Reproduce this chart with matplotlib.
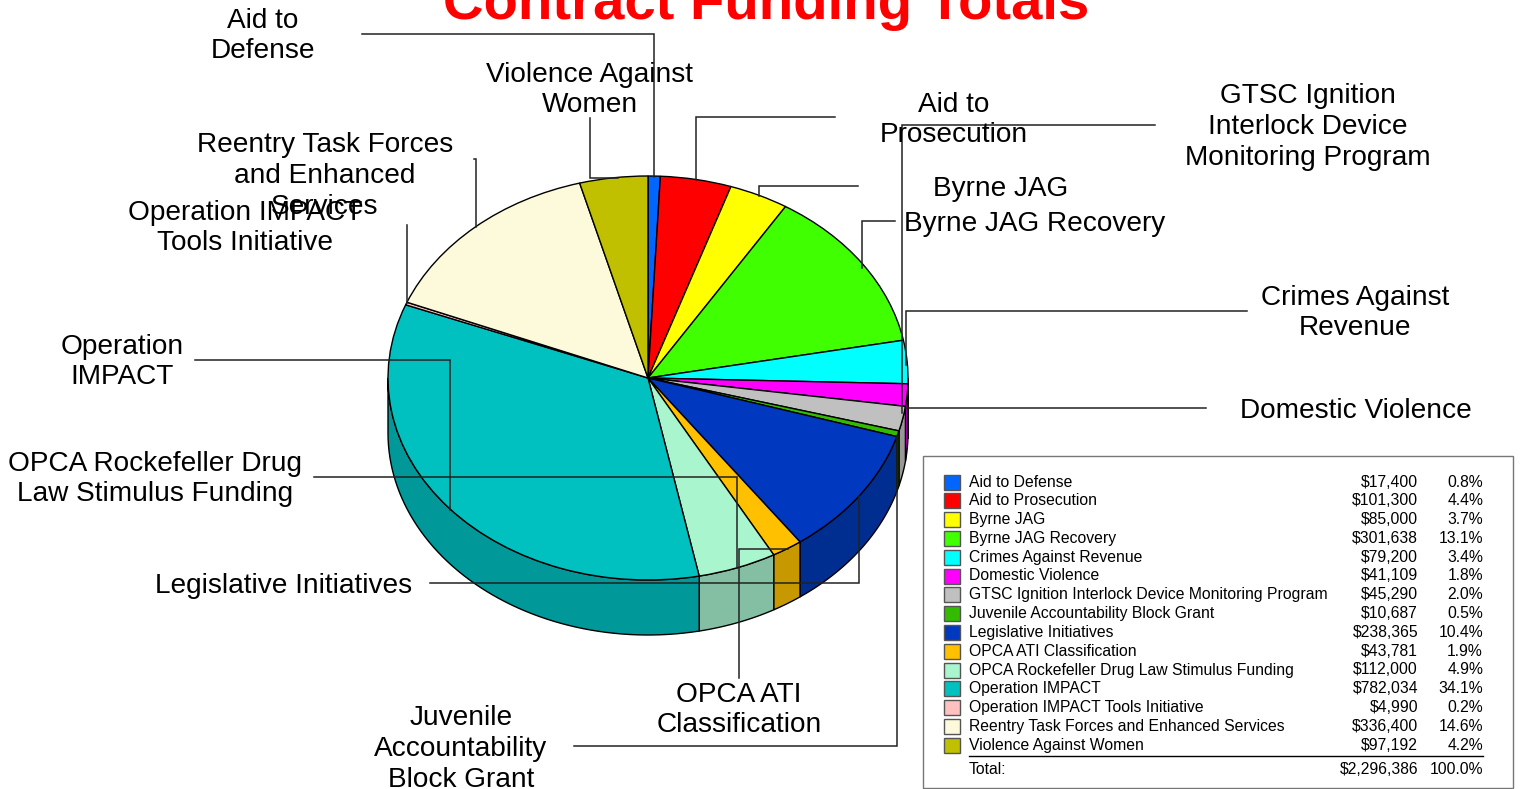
import matplotlib
matplotlib.use('Agg')
import matplotlib.pyplot as plt
import numpy as np

plt.rcParams['font.family'] = ['Liberation Sans', 'DejaVu Sans']

W, H = 1520, 789

# Chart data.
categories = ['Aid to Defense', 'Aid to Prosecution', 'Byrne JAG', 'Byrne JAG Recovery',
              'Crimes Against Revenue', 'Domestic Violence',
              'GTSC Ignition Interlock Device Monitoring Program',
              'Juvenile Accountability Block Grant', 'Legislative Initiatives',
              'OPCA ATI Classification', 'OPCA Rockefeller Drug Law Stimulus Funding',
              'Operation IMPACT', 'Operation IMPACT Tools Initiative',
              'Reentry Task Forces and Enhanced Services', 'Violence Against Women']
amounts = [17400, 101300, 85000, 301638, 79200, 41109, 45290, 10687, 238365,
           43781, 112000, 782034, 4990, 336400, 97192]
percents = [0.8, 4.4, 3.7, 13.1, 3.4, 1.8, 2.0, 0.5, 10.4, 1.9, 4.9, 34.1, 0.2, 14.6, 4.2]
total_amount = 2296386
total_percent = 100.0
colors = ['#0066FF', '#FF0000', '#FFFF00', '#40FF00', '#00FFFF', '#FF00FF', '#C0C0C0',
          '#33BB00', '#0038C0', '#FFC000', '#A8F5CE', '#00C0C0', '#FFC0C0', '#FDFADB', '#C0C000']
side_colors = ['#0052CC', '#CC0000', '#CCCC00', '#33CC00', '#00CCCC', '#CC00CC', '#989898',
               '#289600', '#002E90', '#C89800', '#84BFA3', '#009898', '#CC9999', '#CAC8AF', '#999900']

# Callout text: label, centre x, centre y (pixels).
callouts = [('Aid to\nDefense', 263, 36),
            ('Violence Against\nWomen', 590, 90),
            ('Aid to\nProsecution', 954, 120),
            ('GTSC Ignition\nInterlock Device\nMonitoring Program', 1308, 127),
            ('Byrne JAG', 1001, 189),
            ('Byrne JAG Recovery', 1035, 224),
            ('Crimes Against\nRevenue', 1355, 313),
            ('Domestic Violence', 1356, 411),
            ('Reentry Task Forces\nand Enhanced\nServices', 325, 176),
            ('Operation IMPACT\nTools Initiative', 245, 228),
            ('Operation\nIMPACT', 122, 362),
            ('OPCA Rockefeller Drug\nLaw Stimulus Funding', 155, 479),
            ('Legislative Initiatives', 284, 586),
            ('OPCA ATI\nClassification', 739, 710),
            ('Juvenile\nAccountability\nBlock Grant', 461, 749)]

# Leader lines, as pixel paths.
leaders = [[(362, 34), (654, 34), (654, 177)],
           [(590, 118), (590, 178), (618, 178)],
           [(835, 117), (696, 117), (696, 180)],
           [(858, 186), (759, 186), (759, 196)],
           [(895, 221), (862, 221), (862, 268)],
           [(1155, 125), (902, 125), (902, 413)],
           [(1247, 311), (906, 311), (906, 365)],
           [(1206, 408), (905, 408)],
           [(574, 746), (897, 746), (897, 436)],
           [(430, 583), (859, 583), (859, 496)],
           [(739, 678), (739, 549), (788, 549)],
           [(314, 477), (737, 477), (737, 568)],
           [(195, 360), (450, 360), (450, 510)],
           [(407, 225), (407, 303)],
           [(474, 159), (476, 159), (476, 227)]]

# Pie geometry in pixels.
cx, top, bottom = 648, 176, 580
rx = 260
ry = (bottom - top) / 2.0
depth = 55

fig = plt.figure(figsize=(W / 100, H / 100), dpi=100, facecolor='white')

# The pie axes stretch the unit circle into the tilted ellipse.
d = depth / ry
pie_ax = fig.add_axes([(cx - rx) / W, 1 - (bottom + depth) / H, 2 * rx / W, (bottom - top + depth) / H])

# Side wall of the front half.
fractions = np.array(amounts) / sum(amounts)
edges = np.concatenate([[0], np.cumsum(fractions)]) * 2 * np.pi
for i in range(len(amounts)):
    a0 = max(edges[i], np.pi / 2)
    a1 = min(edges[i + 1], 3 * np.pi / 2)
    if a1 <= a0:
        continue
    t = np.linspace(a0, a1, 60)
    x = np.sin(t)
    y = np.cos(t)
    pie_ax.fill(np.concatenate([x, x[::-1]]), np.concatenate([y, y[::-1] - d]),
                facecolor=side_colors[i], edgecolor='black', linewidth=1, clip_on=False)

pie_ax.pie(amounts, colors=colors, startangle=90, counterclock=False, radius=1,
           center=(0, 0), frame=True,
           wedgeprops={'edgecolor': 'black', 'linewidth': 1, 'clip_on': False})
pie_ax.set_aspect('auto')
pie_ax.set_xlim(-1, 1)
pie_ax.set_ylim(-1 - d, 1)
pie_ax.axis('off')

# Overlay in pixel coordinates for callouts, title and legend.
ax = fig.add_axes([0, 0, 1, 1])
ax.set_xlim(0, W)
ax.set_ylim(H, 0)
ax.axis('off')
ax.patch.set_alpha(0)

for path in leaders:
    xs, ys = zip(*path)
    ax.plot(xs, ys, color='#222222', linewidth=1.1, solid_joinstyle='miter')

for label, x, y in callouts:
    ax.text(x, y, label, fontsize=20.2, ha='center', va='center', linespacing=1.23, color='black')

ax.text(766.5, 19, 'Contract Funding Totals', fontsize=40.5, fontweight='bold', color='#FF0000',
        ha='center', va='baseline')

# Legend table.
ax.add_patch(plt.Rectangle((923, 456), 590, 332, facecolor='white', edgecolor='#777777', linewidth=1))
row_y = 482
row_h = 18.8
for i, name in enumerate(categories):
    y = row_y + i * row_h
    ax.add_patch(plt.Rectangle((944, y - 7.5), 16, 15, facecolor=colors[i], edgecolor='#555555', linewidth=1))
    ax.text(969, y, name, fontsize=11.3, ha='left', va='center')
    ax.text(1418, y, '${:,}'.format(amounts[i]), fontsize=11.3, ha='right', va='center')
    ax.text(1483, y, '{:.1f}%'.format(percents[i]), fontsize=11.3, ha='right', va='center')
ax.plot([969, 1483], [756, 756], color='black', linewidth=1)
ax.text(969, 769, 'Total:', fontsize=11.3, ha='left', va='center')
ax.text(1418, 769, '${:,}'.format(total_amount), fontsize=11.3, ha='right', va='center')
ax.text(1483, 769, '{:.1f}%'.format(total_percent), fontsize=11.3, ha='right', va='center')

fig.savefig('out.png', dpi=100)
